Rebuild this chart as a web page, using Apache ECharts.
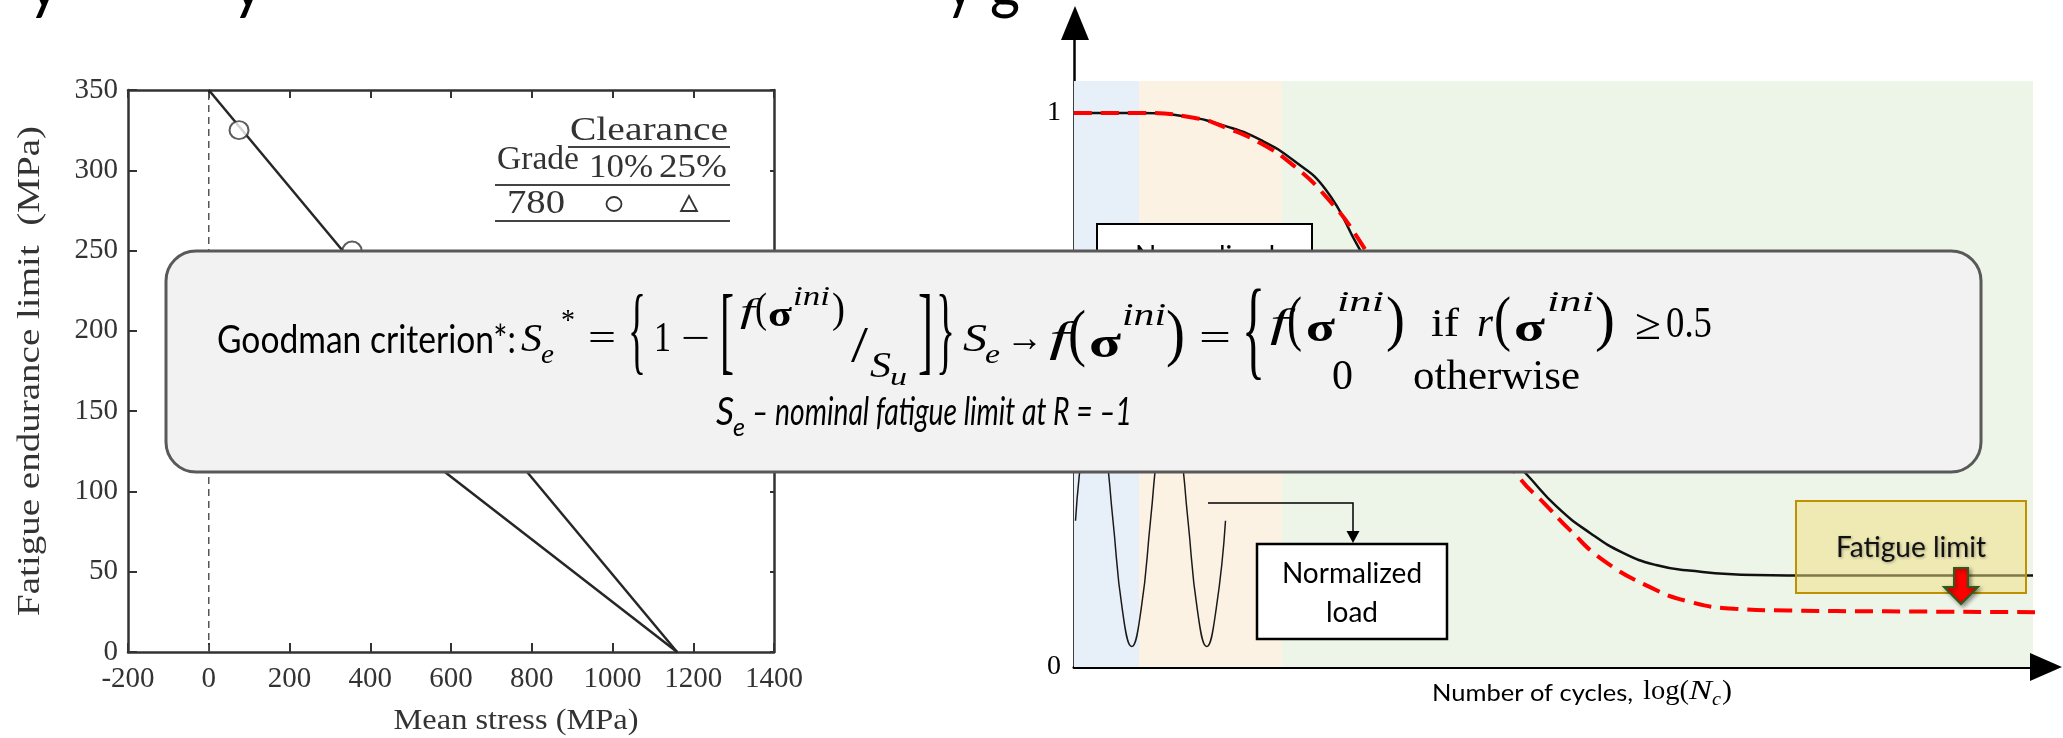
<!DOCTYPE html>
<html><head><meta charset="utf-8">
<script src="https://cdn.jsdelivr.net/npm/echarts/dist/echarts.min.js"></script>
<style>html,body{margin:0;padding:0;background:#fff}#c{width:2063px;height:738px}</style>
</head><body><div id="c"></div>
<script>
// ---------- Left chart (Goodman diagram) ----------
const meanStressTicks = [-200, 0, 200, 400, 600, 800, 1000, 1200, 1400];
const enduranceTicks = [0, 50, 100, 150, 200, 250, 300, 350];
const lineClearance10 = [[0, 350], [1160, 0]];
const lineClearance25 = [[0, 226], [1160, 0]];
const circles10 = [[75, 325], [355, 250]];
const zeroStressLine = [[0, 0], [0, 350]];
// ---------- Right chart (normalized S-N curve) ----------
const snCurve = [[0,1],[6.5,1],[11.4,0.993],[15.4,0.975],[18.7,0.951],[21.9,0.915],[25.2,0.861],[28.5,0.756],[32.6,0.63],[36.6,0.527],[40.6,0.437],[45.3,0.347],[48.3,0.289],[51.6,0.242],[54.9,0.206],[58.2,0.184],[61.5,0.174],[68.1,0.166],[74.6,0.165],[95.9,0.165]];
const snCurveReduced = [[0,1],[6.5,1],[12.1,0.991],[15.4,0.972],[18.7,0.945],[21.9,0.906],[25.2,0.849],[28.5,0.771],[32.6,0.644],[36.6,0.54],[40.6,0.44],[44.7,0.338],[47.0,0.296],[49.6,0.247],[52.9,0.193],[57.5,0.145],[61.5,0.118],[66.1,0.105],[71.4,0.102],[81.2,0.1005],[96.5,0.099]];
const normalizedLoad = [[0.15,0.264],[1.08,0.424],[2.02,0.491],[2.96,0.424],[3.9,0.264],[4.83,0.104],[5.77,0.037],[6.71,0.104],[7.65,0.264],[8.58,0.424],[9.52,0.491],[10.46,0.424],[11.4,0.264],[12.33,0.104],[13.27,0.037],[14.21,0.104],[15.15,0.264]];
const regionEdges = [0, 6.5, 20.8, 95.9];
const regionTop = 1.058;
const regionColors = ['#e7eff8', '#fcf2e4', '#ecf5e8'];

const SER = '"Liberation Serif", "DejaVu Serif", serif';
const mc = document.createElement('canvas').getContext('2d');
function txt(text, font, x0, x1, yc, o) {
  mc.font = font;
  const w = mc.measureText(text).width;
  const el = {type: 'text', x: x0, y: yc, z: 101, silent: true,
    style: {text: text, font: font, fill: '#000', textAlign: 'left', textVerticalAlign: 'middle'}};
  if (x1 != null) el.scaleX = (x1 - x0) / w;
  return Object.assign(el, o || {});
}
function ctext(text, font, xc, yc, width, color, extra) {
  mc.font = font;
  const w = mc.measureText(text).width;
  const el = {type: 'text', x: xc, y: yc, z: 6, silent: true,
    style: Object.assign({text: text, font: font, fill: color || '#000', textAlign: 'center', textVerticalAlign: 'middle'}, (extra && extra.style) || {})};
  if (width != null) el.scaleX = width / w;
  if (extra) { for (const k in extra) if (k !== 'style') el[k] = extra[k]; }
  return el;
}
function line(pts, color, w, z) {
  return {type: 'polyline', z: z || 6, silent: true, shape: {points: pts}, style: {stroke: color, lineWidth: w, fill: null}};
}

const it = (n) => 'italic ' + n + 'px ' + SER;
const rm = (n) => n + 'px ' + SER;
const bd = (n) => 'bold ' + n + 'px ' + SER;

const formula = [
  txt('Goodman criterion*:', '39px Lato', 217, 516, 340),
  txt('S', it(40), 521, 542, 340), txt('e', it(27), 541, 554, 356), txt('*', rm(30), 561, 575, 321),
  txt('=', rm(40), 588, 616, 340),
  txt('{', rm(98), 628, 646, 336),
  txt('1', rm(42), 654, 671, 340),
  txt('\u2212', rm(40), 681, 710, 340),
  txt('[', rm(98), 720, 734, 336),
  txt('f', it(33), 740, 755, 313), txt('(', rm(42), 755, 767, 311), txt('\u03c3', bd(36), 768, 792, 317),
  txt('ini', it(27), 793, 830, 298), txt(')', rm(42), 832, 845, 311),
  txt('/', rm(50), 851, 868, 348),
  txt('S', it(36), 870, 891, 368), txt('u', it(25), 890, 907, 378),
  txt(']', rm(98), 918, 933, 336), txt('}', rm(98), 936, 955, 336),
  txt('S', it(40), 963, 987, 340), txt('e', it(27), 985, 1000, 356),
  txt('\u2192', rm(40), 1006, 1043, 340),
  txt('f', it(42), 1049, 1069, 340), txt('(', rm(64), 1068, 1086, 337), txt('\u03c3', bd(45), 1089, 1121, 345),
  txt('ini', it(31), 1122, 1166, 317), txt(')', rm(64), 1166, 1185, 337),
  txt('=', rm(40), 1199, 1231, 340),
  txt('{', rm(110), 1242, 1265, 336),
  txt('f', it(40), 1270, 1288, 325), txt('(', rm(62), 1287, 1302, 323), txt('\u03c3', bd(42), 1306, 1335, 330),
  txt('ini', it(29), 1337, 1384, 303), txt(')', rm(62), 1386, 1405, 323),
  txt('if', rm(40), 1431, 1459, 325),
  txt('r', it(40), 1477, 1493, 325), txt('(', rm(62), 1494, 1511, 323), txt('\u03c3', bd(42), 1514, 1545, 330),
  txt('ini', it(29), 1547, 1594, 303), txt(')', rm(62), 1595, 1615, 323),
  txt('\u2265', rm(44), 1635, 1661, 327), txt('0.5', rm(44), 1666, 1712, 325),
  txt('0', rm(42), 1332, 1353, 378), txt('otherwise', rm(42), 1413, 1580, 378),
  txt('S', 'italic 38px Lato', 716, 734, 413), txt('e', 'italic 26px Lato', 733, 745, 428),
  txt('\u2013 nominal fatigue limit at R = \u20131', 'italic 38px Lato', 752, 1132, 413)
];

const graphics = [
  // cut-off title line at the very top
  txt('y', '64px Lato', 28, 60, -14, {z: 6}),
  txt('y', '64px Lato', 232, 264, -14, {z: 6}),
  txt('y', '64px Lato', 946, 974, -14, {z: 6}),
  txt('g', '64px Lato', 990, 1020, -14, {z: 6}),
  // left chart axis titles
  ctext('Mean stress (MPa)', '29px ' + SER, 516, 721, 245, '#333'),
  ctext('Fatigue endurance limit  (MPa)', '32px ' + SER, 31, 371, 490, '#333', {rotation: Math.PI / 2}),
  // legend table
  ctext('Clearance', '34px ' + SER, 649, 131, 158, '#333'),
  line([[568, 147], [730, 147]], '#444', 2),
  ctext('Grade', '34px ' + SER, 538, 160, 82, '#333'),
  ctext('10%', '34px ' + SER, 621, 168, 64, '#333'),
  ctext('25%', '34px ' + SER, 693, 168, 68, '#333'),
  line([[495, 185], [730, 185]], '#444', 2),
  ctext('780', '34px ' + SER, 536, 204, 58, '#333'),
  {type: 'ellipse', z: 6, silent: true, shape: {cx: 614, cy: 204, rx: 7.5, ry: 7}, style: {fill: null, stroke: '#333', lineWidth: 1.8}},
  {type: 'polygon', z: 6, silent: true, shape: {points: [[689, 196], [697, 211], [681, 211]]}, style: {fill: null, stroke: '#333', lineWidth: 1.8}},
  line([[495, 221], [730, 221]], '#444', 2),
  // right chart axis arrowheads
  {type: 'polygon', z: 8, silent: true, shape: {points: [[1061, 40], [1075, 6], [1089, 40]]}, style: {fill: '#000'}},
  {type: 'polygon', z: 8, silent: true, shape: {points: [[2030, 653], [2062, 667], [2030, 681]]}, style: {fill: '#000'}},
  // right chart: partially hidden label box
  {type: 'rect', z: 5, silent: true, shape: {x: 1097, y: 224, width: 215, height: 70}, style: {fill: '#fff', stroke: '#000', lineWidth: 2}},
  ctext('Normalized', '28px Lato', 1205, 257),
  // normalized load label + connector
  line([[1208, 503], [1353, 503], [1353, 532]], '#000', 1.5),
  {type: 'polygon', z: 6, silent: true, shape: {points: [[1346.5, 531], [1359.5, 531], [1353, 543]]}, style: {fill: '#000'}},
  {type: 'rect', z: 5, silent: true, shape: {x: 1257, y: 544, width: 190, height: 95}, style: {fill: '#fff', stroke: '#000', lineWidth: 2.5}},
  ctext('Normalized', '28px Lato', 1352, 574),
  ctext('load', '28px Lato', 1352, 613),
  // fatigue limit box
  {type: 'rect', z: 10, silent: true, shape: {x: 1796, y: 501, width: 230, height: 92}, style: {fill: 'rgba(242,222,128,0.5)', stroke: '#bf9000', lineWidth: 2}},
  ctext('Fatigue limit', '28px Lato', 1911, 548, null, '#111', {z: 11, style: {textShadowColor: 'rgba(0,0,0,0.35)', textShadowBlur: 3, textShadowOffsetX: 1, textShadowOffsetY: 1}}),
  {type: 'polygon', z: 12, silent: true, shape: {points: [[1954, 568], [1968, 568], [1968, 587], [1978, 587], [1961, 604], [1944, 587], [1954, 587]]},
    style: {fill: '#ff0000', stroke: '#2e5a1c', lineWidth: 2, shadowColor: 'rgba(0,0,0,0.4)', shadowBlur: 4, shadowOffsetX: 2, shadowOffsetY: 2}},
  // right x-axis title
  txt('Number of cycles,', '24px Lato', 1432, 1633, 693, {z: 6}),
  txt('log(', rm(27), 1643, 1689, 692, {z: 6}),
  txt('N', it(27), 1689, 1712, 692, {z: 6}),
  txt('c', it(19), 1712, 1721, 700, {z: 6}),
  txt(')', rm(27), 1722, 1732, 692, {z: 6}),
  // formula box
  {type: 'rect', z: 100, silent: true, shape: {x: 166, y: 251, width: 1815, height: 221, r: 30}, style: {fill: '#f2f2f2', stroke: '#595959', lineWidth: 3}}
].concat(formula);

const chart = echarts.init(document.getElementById('c'), null, {renderer: 'canvas'});
const axisLblL = {fontFamily: SER, fontSize: 29, color: '#333', formatter: v => String(v)};
chart.setOption({
  animation: false,
  backgroundColor: '#fff',
  grid: [
    {left: 128, top: 90, right: 1289, bottom: 86, outerBoundsMode: 'none', containLabel: false},
    {left: 1074, top: 38, right: 30, bottom: 71, outerBoundsMode: 'none', containLabel: false}
  ],
  xAxis: [
    {gridIndex: 0, type: 'value', min: meanStressTicks[0], max: meanStressTicks[meanStressTicks.length - 1], interval: 200, position: 'bottom',
      axisLine: {onZero: false, lineStyle: {color: '#333', width: 2.5}}, axisTick: {inside: true, length: 9, lineStyle: {color: '#333', width: 2}},
      axisLabel: Object.assign({margin: 13}, axisLblL), splitLine: {show: false}},
    {gridIndex: 0, type: 'value', min: -200, max: 1400, interval: 200, position: 'top',
      axisLine: {onZero: false, lineStyle: {color: '#333', width: 2.5}}, axisTick: {inside: true, length: 8, lineStyle: {color: '#333', width: 2}},
      axisLabel: {show: false}, splitLine: {show: false}},
    {gridIndex: 1, type: 'value', min: 0, max: 95.9,
      axisLine: {onZero: true, lineStyle: {color: '#000', width: 3}},
      axisTick: {show: false}, axisLabel: {show: false}, splitLine: {show: false}}
  ],
  yAxis: [
    {gridIndex: 0, type: 'value', min: enduranceTicks[0], max: enduranceTicks[enduranceTicks.length - 1], interval: 50, position: 'left',
      axisLine: {onZero: false, lineStyle: {color: '#333', width: 2.5}}, axisTick: {inside: true, length: 9, lineStyle: {color: '#333', width: 2}},
      axisLabel: Object.assign({margin: 10}, axisLblL), splitLine: {show: false}},
    {gridIndex: 0, type: 'value', min: 0, max: 350, interval: 50, position: 'right',
      axisLine: {onZero: false, lineStyle: {color: '#333', width: 2.5}}, axisTick: {inside: true, length: 4, lineStyle: {color: '#333', width: 2}},
      axisLabel: {show: false}, splitLine: {show: false}},
    {gridIndex: 1, type: 'value', min: 0, max: 1.1354, interval: 1,
      axisLine: {onZero: true, lineStyle: {color: '#000', width: 2.5}},
      axisTick: {show: false}, splitLine: {show: false},
      axisLabel: {margin: 13, fontFamily: SER, fontSize: 28, color: '#000', formatter: v => (v === 0 || v === 1) ? String(v) : ''}}
  ],
  series: [
    {type: 'line', xAxisIndex: 0, yAxisIndex: 0, data: zeroStressLine, symbol: 'none', silent: true,
      lineStyle: {color: '#555', width: 1.5, type: [7, 5]}},
    {type: 'line', xAxisIndex: 0, yAxisIndex: 0, data: lineClearance10, symbol: 'none', silent: true,
      lineStyle: {color: '#262626', width: 2.5}},
    {type: 'line', xAxisIndex: 0, yAxisIndex: 0, data: lineClearance25, symbol: 'none', silent: true,
      lineStyle: {color: '#262626', width: 2.5}},
    {type: 'scatter', xAxisIndex: 0, yAxisIndex: 0, data: circles10, symbol: 'circle', symbolSize: [19, 18], silent: true, z: 4,
      itemStyle: {color: '#fff', borderColor: '#333', borderWidth: 2}},
    {type: 'line', xAxisIndex: 2, yAxisIndex: 2, data: [], silent: true, z: 1,
      markArea: {silent: true, data: regionColors.map((c, i) => [
        {xAxis: regionEdges[i], yAxis: 0, itemStyle: {color: c}},
        {xAxis: regionEdges[i + 1], yAxis: regionTop}])}},
    {type: 'line', xAxisIndex: 2, yAxisIndex: 2, data: normalizedLoad, symbol: 'none', smooth: 0.5, silent: true,
      lineStyle: {color: '#1a1a1a', width: 1.5}},
    {type: 'line', xAxisIndex: 2, yAxisIndex: 2, data: snCurve, symbol: 'none', smooth: 0.5, silent: true, clip: false,
      lineStyle: {color: '#111', width: 2.5}},
    {type: 'line', xAxisIndex: 2, yAxisIndex: 2, data: snCurveReduced, symbol: 'none', smooth: 0.5, silent: true, clip: false,
      lineStyle: {color: '#ff0000', width: 4, type: [18, 9]}}
  ],
  graphic: graphics
});
</script></body></html>
